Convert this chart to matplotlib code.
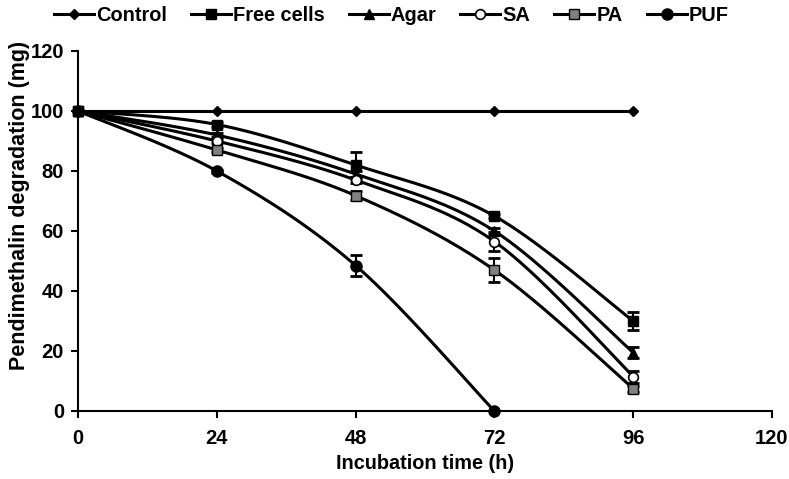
import numpy as np
import matplotlib.pyplot as plt

plt.rcParams['font.family'] = ['Liberation Sans', 'DejaVu Sans']
plt.rcParams['font.weight'] = 'bold'

time = [0, 24, 48, 72, 96]
control = [100, 100, 100, 100, 100]
free_cells = [100, 95.5, 82, 65, 30]
agar = [100, 92, 79, 60, 19.5]
sa = [100, 90, 77, 56.5, 11.5]
pa = [100, 87, 71.8, 47, 7.5]
puf_time = [0, 24, 48, 72]
puf = [100, 80, 48.5, 0]

free_err = [0, 0.8, 4.5, 0.8, 3]
agar_err = [0, 0.8, 1.0, 1.0, 1.8]
sa_err = [0, 0.8, 1.0, 3.3, 2]
pa_err = [0, 0.8, 1.5, 4, 1]
puf_err = [0, 0.5, 3.6, 0]


def smooth(x, y, n=40):
    # excel-like smoothed line (catmull-rom bezier)
    x = np.asarray(x, float)
    y = np.asarray(y, float)
    px = np.concatenate([[x[0]], x, [x[-1]]])
    py = np.concatenate([[y[0]], y, [y[-1]]])
    xs, ys = [], []
    t = np.linspace(0, 1, n)
    for i in range(1, len(px) - 2):
        p0 = np.array([px[i], py[i]])
        p3 = np.array([px[i + 1], py[i + 1]])
        p1 = p0 + (np.array([px[i + 1], py[i + 1]]) - np.array([px[i - 1], py[i - 1]])) / 6
        p2 = p3 - (np.array([px[i + 2], py[i + 2]]) - np.array([px[i], py[i]])) / 6
        b = ((1 - t) ** 3)[:, None] * p0 + (3 * (1 - t) ** 2 * t)[:, None] * p1 \
            + (3 * (1 - t) * t ** 2)[:, None] * p2 + (t ** 3)[:, None] * p3
        xs.extend(b[:, 0])
        ys.extend(b[:, 1])
    return xs, ys


fig = plt.figure(figsize=(7.89, 4.79), dpi=100)
ax = fig.add_axes([78 / 789, 1 - 411 / 479, (772 - 78) / 789, (411 - 51) / 479])

series = [
    ("Control", time, control, None, dict(marker='D', ms=5.5, mfc='black', mec='black')),
    ("Free cells", time, free_cells, free_err, dict(marker='s', ms=7.5, mfc='black', mec='black')),
    ("Agar", time, agar, agar_err, dict(marker='^', ms=7.5, mfc='black', mec='black')),
    ("SA", time, sa, sa_err, dict(marker='o', ms=7, mfc='white', mec='black', mew=1.2)),
    ("PA", time, pa, pa_err, dict(marker='s', ms=7.5, mfc='#808080', mec='black', mew=1)),
    ("PUF", puf_time, puf, puf_err, dict(marker='o', ms=8, mfc='black', mec='black')),
]

handles = []
for name, x, y, err, mk in series:
    sx, sy = smooth(x, y)
    ax.plot(sx, sy, color='black', lw=2.2, zorder=2)
    if err is not None:
        ax.errorbar(x, y, yerr=err, fmt='none', ecolor='black', elinewidth=1.5,
                    capsize=4, capthick=2, zorder=3)
    ax.plot(x, y, ls='none', zorder=4, clip_on=False, **mk)
    h, = ax.plot([], [], color='black', lw=2.2, label=name, **mk)
    handles.append(h)

ax.set_xlim(0, 120)
ax.set_ylim(0, 120)
ax.set_xticks([0, 24, 48, 72, 96, 120])
ax.set_yticks(range(0, 121, 20))
ax.spines['top'].set_visible(False)
ax.spines['right'].set_visible(False)
ax.spines['left'].set_linewidth(1.5)
ax.spines['bottom'].set_linewidth(1.5)
ax.tick_params(direction='out', length=5, width=1.5, labelsize=14.5)
ax.tick_params(axis='x', pad=8)
ax.tick_params(axis='y', pad=5)
ax.set_xlabel("Incubation time (h)", fontsize=14.3, fontweight='bold', labelpad=4)
ax.set_ylabel("Pendimethalin degradation (mg)", fontsize=15.5, fontweight='bold')
ax.yaxis.set_label_coords(-0.069, 0.572)

fig.legend(handles=handles, loc='upper center', ncol=6, frameon=False,
           bbox_to_anchor=(0.496, 1.025), fontsize=14.4, handlelength=2.0,
           handletextpad=0.1, columnspacing=1.2)

fig.savefig("out.png", dpi=100)
